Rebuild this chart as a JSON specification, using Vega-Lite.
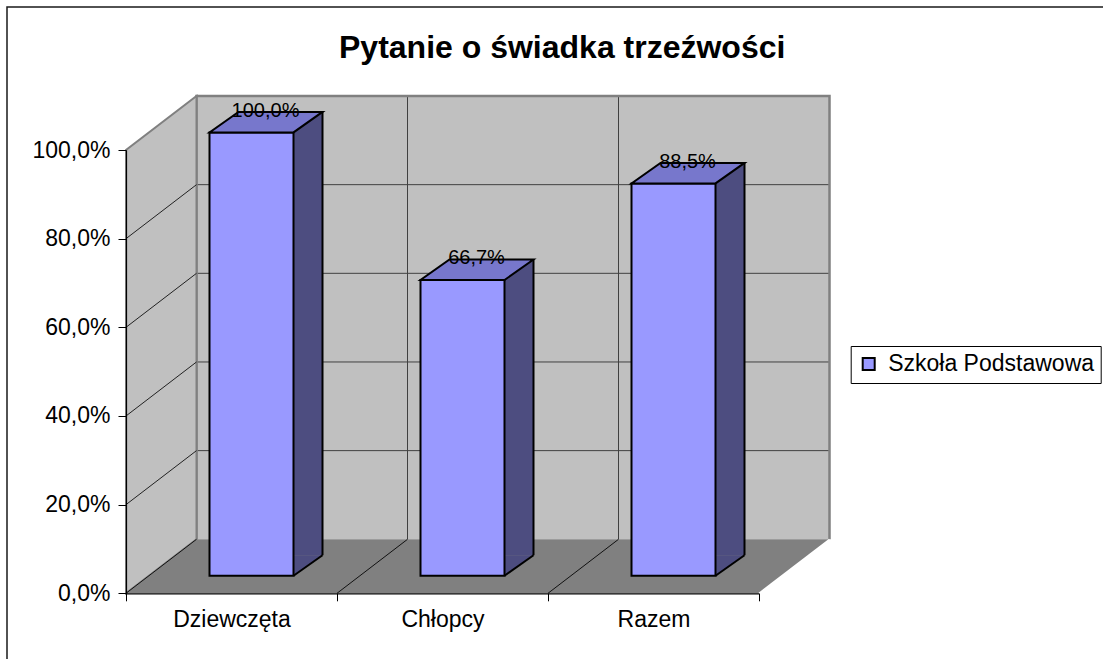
{
  "$schema": "https://vega.github.io/schema/vega-lite/v6.json",
  "width": 1130,
  "height": 690,
  "autosize": {"type": "none"},
  "padding": {"left": 7, "top": 7, "right": -34, "bottom": -38},
  "background": "white",
  "config": {
    "font": "Liberation Sans",
    "view": {"stroke": "#1a1a1a", "strokeWidth": 1.5},
    "locale": {"number": {"decimal": ",", "thousands": " ", "grouping": [3], "currency": ["", " zł"]}}
  },
  "title": {
    "text": "Pytanie o świadka trzeźwości",
    "fontSize": 32,
    "fontWeight": "bold",
    "font": "Liberation Sans",
    "color": "black",
    "anchor": "start",
    "frame": "group",
    "offset": -58,
    "dx": 332
  },
  "datasets": {
    "bars": [
      {"cat": "Dziewczęta", "v": 1.0, "s": "Szkoła Podstawowa"},
      {"cat": "Chłopcy", "v": 0.667, "s": "Szkoła Podstawowa"},
      {"cat": "Razem", "v": 0.885, "s": "Szkoła Podstawowa"}
    ],
    "levels": [{"p": 0}, {"p": 0.2}, {"p": 0.4}, {"p": 0.6}, {"p": 0.8}, {"p": 1}],
    "one": [{"k": 1}]
  },
  "layer": [
    {
      "data": {"name": "bars"},
      "mark": {"type": "bar", "fill": "#c0c0c0", "xOffset": 70.5, "yOffset": -54, "y2Offset": -54},
      "encoding": {
        "x": {
          "field": "cat", "type": "nominal", "sort": null,
          "scale": {"domain": ["Dziewczęta", "Chłopcy", "Razem"], "range": [119, 752], "paddingInner": 0, "paddingOuter": 0},
          "axis": {
            "title": null, "offset": -103.7, "tickBand": "extent", "tickSize": 7.5, "tickColor": "black",
            "domainColor": "black", "domainWidth": 1.2, "labelAngle": 0, "labelFontSize": 23,
            "labelColor": "black", "labelPadding": 8, "labelFont": "Liberation Sans", "zindex": 1, "grid": false
          }
        },
        "y": {
          "datum": 1, "type": "quantitative",
          "scale": {"domain": [0, 1], "range": [586.3, 143], "nice": false, "zero": false},
          "axis": {
            "title": null, "offset": -119, "values": [0, 0.2, 0.4, 0.6, 0.8, 1], "format": ".1%",
            "tickSize": 8, "tickColor": "black", "domainColor": "black", "domainWidth": 1.2,
            "labelFontSize": 23, "labelColor": "black", "labelPadding": 8, "labelFont": "Liberation Sans",
            "zindex": 1, "grid": false
          }
        },
        "y2": {"datum": 0}
      }
    },
    {
      "data": {"name": "levels"},
      "transform": [{"filter": "datum.p > 0 && datum.p < 1"}],
      "mark": {"type": "rule", "stroke": "#404040", "strokeWidth": 1, "xOffset": 70.5, "x2Offset": 70.5, "yOffset": -54, "y2Offset": -54},
      "encoding": {
        "x": {"datum": "Dziewczęta", "type": "nominal", "bandPosition": 0},
        "x2": {"datum": "Razem", "bandPosition": 1},
        "y": {"field": "p", "type": "quantitative"}
      }
    },
    {
      "data": {"name": "bars"},
      "transform": [{"filter": "datum.cat != 'Dziewczęta'"}],
      "mark": {"type": "rule", "stroke": "#404040", "strokeWidth": 1, "xOffset": 70.5, "yOffset": -54, "y2Offset": -54},
      "encoding": {
        "x": {"field": "cat", "type": "nominal", "bandPosition": 0},
        "y": {"datum": 0, "type": "quantitative"},
        "y2": {"datum": 1}
      }
    },
    {
      "data": {"name": "one"},
      "mark": {"type": "point", "shape": "M-35,-54 L-35,-497.3 L598,-497.3 L598,-54", "size": 4, "filled": false, "stroke": "#808080", "strokeWidth": 2.5, "opacity": 1},
      "encoding": {
        "x": {"datum": "Dziewczęta", "type": "nominal"},
        "y": {"datum": 0, "type": "quantitative"}
      }
    },
    {
      "data": {"name": "one"},
      "mark": {"type": "point", "shape": "M-105.5,0 L-105.5,-443.3 L-35,-497.3 L-35,-54 Z", "size": 4, "filled": true, "fill": "#c0c0c0", "stroke": "#808080", "strokeWidth": 2, "opacity": 1},
      "encoding": {
        "x": {"datum": "Dziewczęta", "type": "nominal"},
        "y": {"datum": 0, "type": "quantitative"}
      }
    },
    {
      "data": {"name": "levels"},
      "transform": [{"filter": "datum.p > 0 && datum.p < 1"}],
      "mark": {"type": "rule", "stroke": "#222222", "strokeWidth": 1, "x2Offset": 70.5, "y2Offset": -54},
      "encoding": {
        "x": {"datum": "Dziewczęta", "type": "nominal", "bandPosition": 0},
        "x2": {"datum": "Dziewczęta", "bandPosition": 0},
        "y": {"field": "p", "type": "quantitative"},
        "y2": {"field": "p"}
      }
    },
    {
      "data": {"name": "one"},
      "mark": {"type": "point", "shape": "M-105.5,0 L527.5,0 L598,-54 L-35,-54 Z", "size": 4, "filled": true, "fill": "#808080", "strokeWidth": 0, "opacity": 1},
      "encoding": {
        "x": {"datum": "Dziewczęta", "type": "nominal"},
        "y": {"datum": 0, "type": "quantitative"}
      }
    },
    {
      "data": {"name": "bars"},
      "mark": {"type": "rule", "stroke": "#111111", "strokeWidth": 1, "x2Offset": 70.5, "y2Offset": -54},
      "encoding": {
        "x": {"field": "cat", "type": "nominal", "bandPosition": 0},
        "x2": {"field": "cat", "bandPosition": 0},
        "y": {"datum": 0, "type": "quantitative"},
        "y2": {"datum": 0}
      }
    },
    {
      "data": {"name": "one"},
      "mark": {"type": "rule", "stroke": "white", "strokeWidth": 1.5, "x2Offset": 70.5, "y2Offset": -54},
      "encoding": {
        "x": {"datum": "Razem", "type": "nominal", "bandPosition": 1},
        "x2": {"datum": "Razem", "bandPosition": 1},
        "y": {"datum": 0, "type": "quantitative"},
        "y2": {"datum": 0}
      }
    },
    {
      "data": {"name": "bars"},
      "mark": {"type": "bar", "width": 29, "fill": "#4d4d80", "xOffset": 76.5, "yOffset": -38.1, "y2Offset": -38.1},
      "encoding": {
        "x": {"field": "cat", "type": "nominal"},
        "y": {"field": "v", "type": "quantitative"},
        "y2": {"datum": 0}
      }
    },
    {
      "data": {"name": "bars"},
      "mark": {"type": "point", "shape": "M42,0 L42,-20.5 L71,-20.5 Z", "size": 4, "filled": true, "fill": "#4d4d80", "strokeWidth": 0, "opacity": 1, "xOffset": 20, "yOffset": -17.6},
      "encoding": {
        "x": {"field": "cat", "type": "nominal"},
        "y": {"datum": 0, "type": "quantitative"}
      }
    },
    {
      "data": {"name": "bars"},
      "mark": {"type": "point", "shape": "M42,0 L71,-20.5", "size": 4, "filled": false, "stroke": "black", "strokeWidth": 2, "opacity": 1, "xOffset": 20, "yOffset": -17.6},
      "encoding": {
        "x": {"field": "cat", "type": "nominal"},
        "y": {"datum": 0, "type": "quantitative"}
      }
    },
    {
      "data": {"name": "bars"},
      "mark": {"type": "rule", "stroke": "black", "strokeWidth": 2, "xOffset": 91, "yOffset": -38.1, "y2Offset": -38.1},
      "encoding": {
        "x": {"field": "cat", "type": "nominal"},
        "y": {"field": "v", "type": "quantitative"},
        "y2": {"datum": 0}
      }
    },
    {
      "data": {"name": "bars"},
      "mark": {"type": "bar", "width": 84, "stroke": "black", "strokeWidth": 2, "xOffset": 20, "yOffset": -17.6, "y2Offset": -17.6},
      "encoding": {
        "x": {"field": "cat", "type": "nominal"},
        "y": {"field": "v", "type": "quantitative"},
        "y2": {"datum": 0},
        "color": {
          "field": "s", "type": "nominal",
          "scale": {"range": ["#9999ff"]},
          "legend": {
            "title": null, "orient": "none", "legendX": 843.7, "legendY": 339,
            "symbolType": "square", "symbolSize": 144, "symbolStrokeColor": "black", "symbolStrokeWidth": 2,
            "labelFontSize": 23, "labelColor": "black", "labelFont": "Liberation Sans", "labelOffset": 8,
            "labelLimit": 400,
            "strokeColor": "black", "fillColor": "white", "padding": 6.5
          }
        }
      }
    },
    {
      "data": {"name": "bars"},
      "mark": {"type": "point", "shape": "M-42,0 L42,0 L71,-20.5 L-13,-20.5 Z", "size": 4, "filled": true, "fill": "#7777cc", "stroke": "black", "strokeWidth": 2, "opacity": 1, "xOffset": 20, "yOffset": -17.6},
      "encoding": {
        "x": {"field": "cat", "type": "nominal"},
        "y": {"field": "v", "type": "quantitative"}
      }
    },
    {
      "data": {"name": "bars"},
      "mark": {"type": "text", "fontSize": 20, "font": "Liberation Sans", "color": "black", "baseline": "middle", "align": "center", "xOffset": 34, "yOffset": -39.2},
      "encoding": {
        "x": {"field": "cat", "type": "nominal"},
        "y": {"field": "v", "type": "quantitative"},
        "text": {"field": "v", "type": "quantitative", "format": ".1%"}
      }
    }
  ]
}
